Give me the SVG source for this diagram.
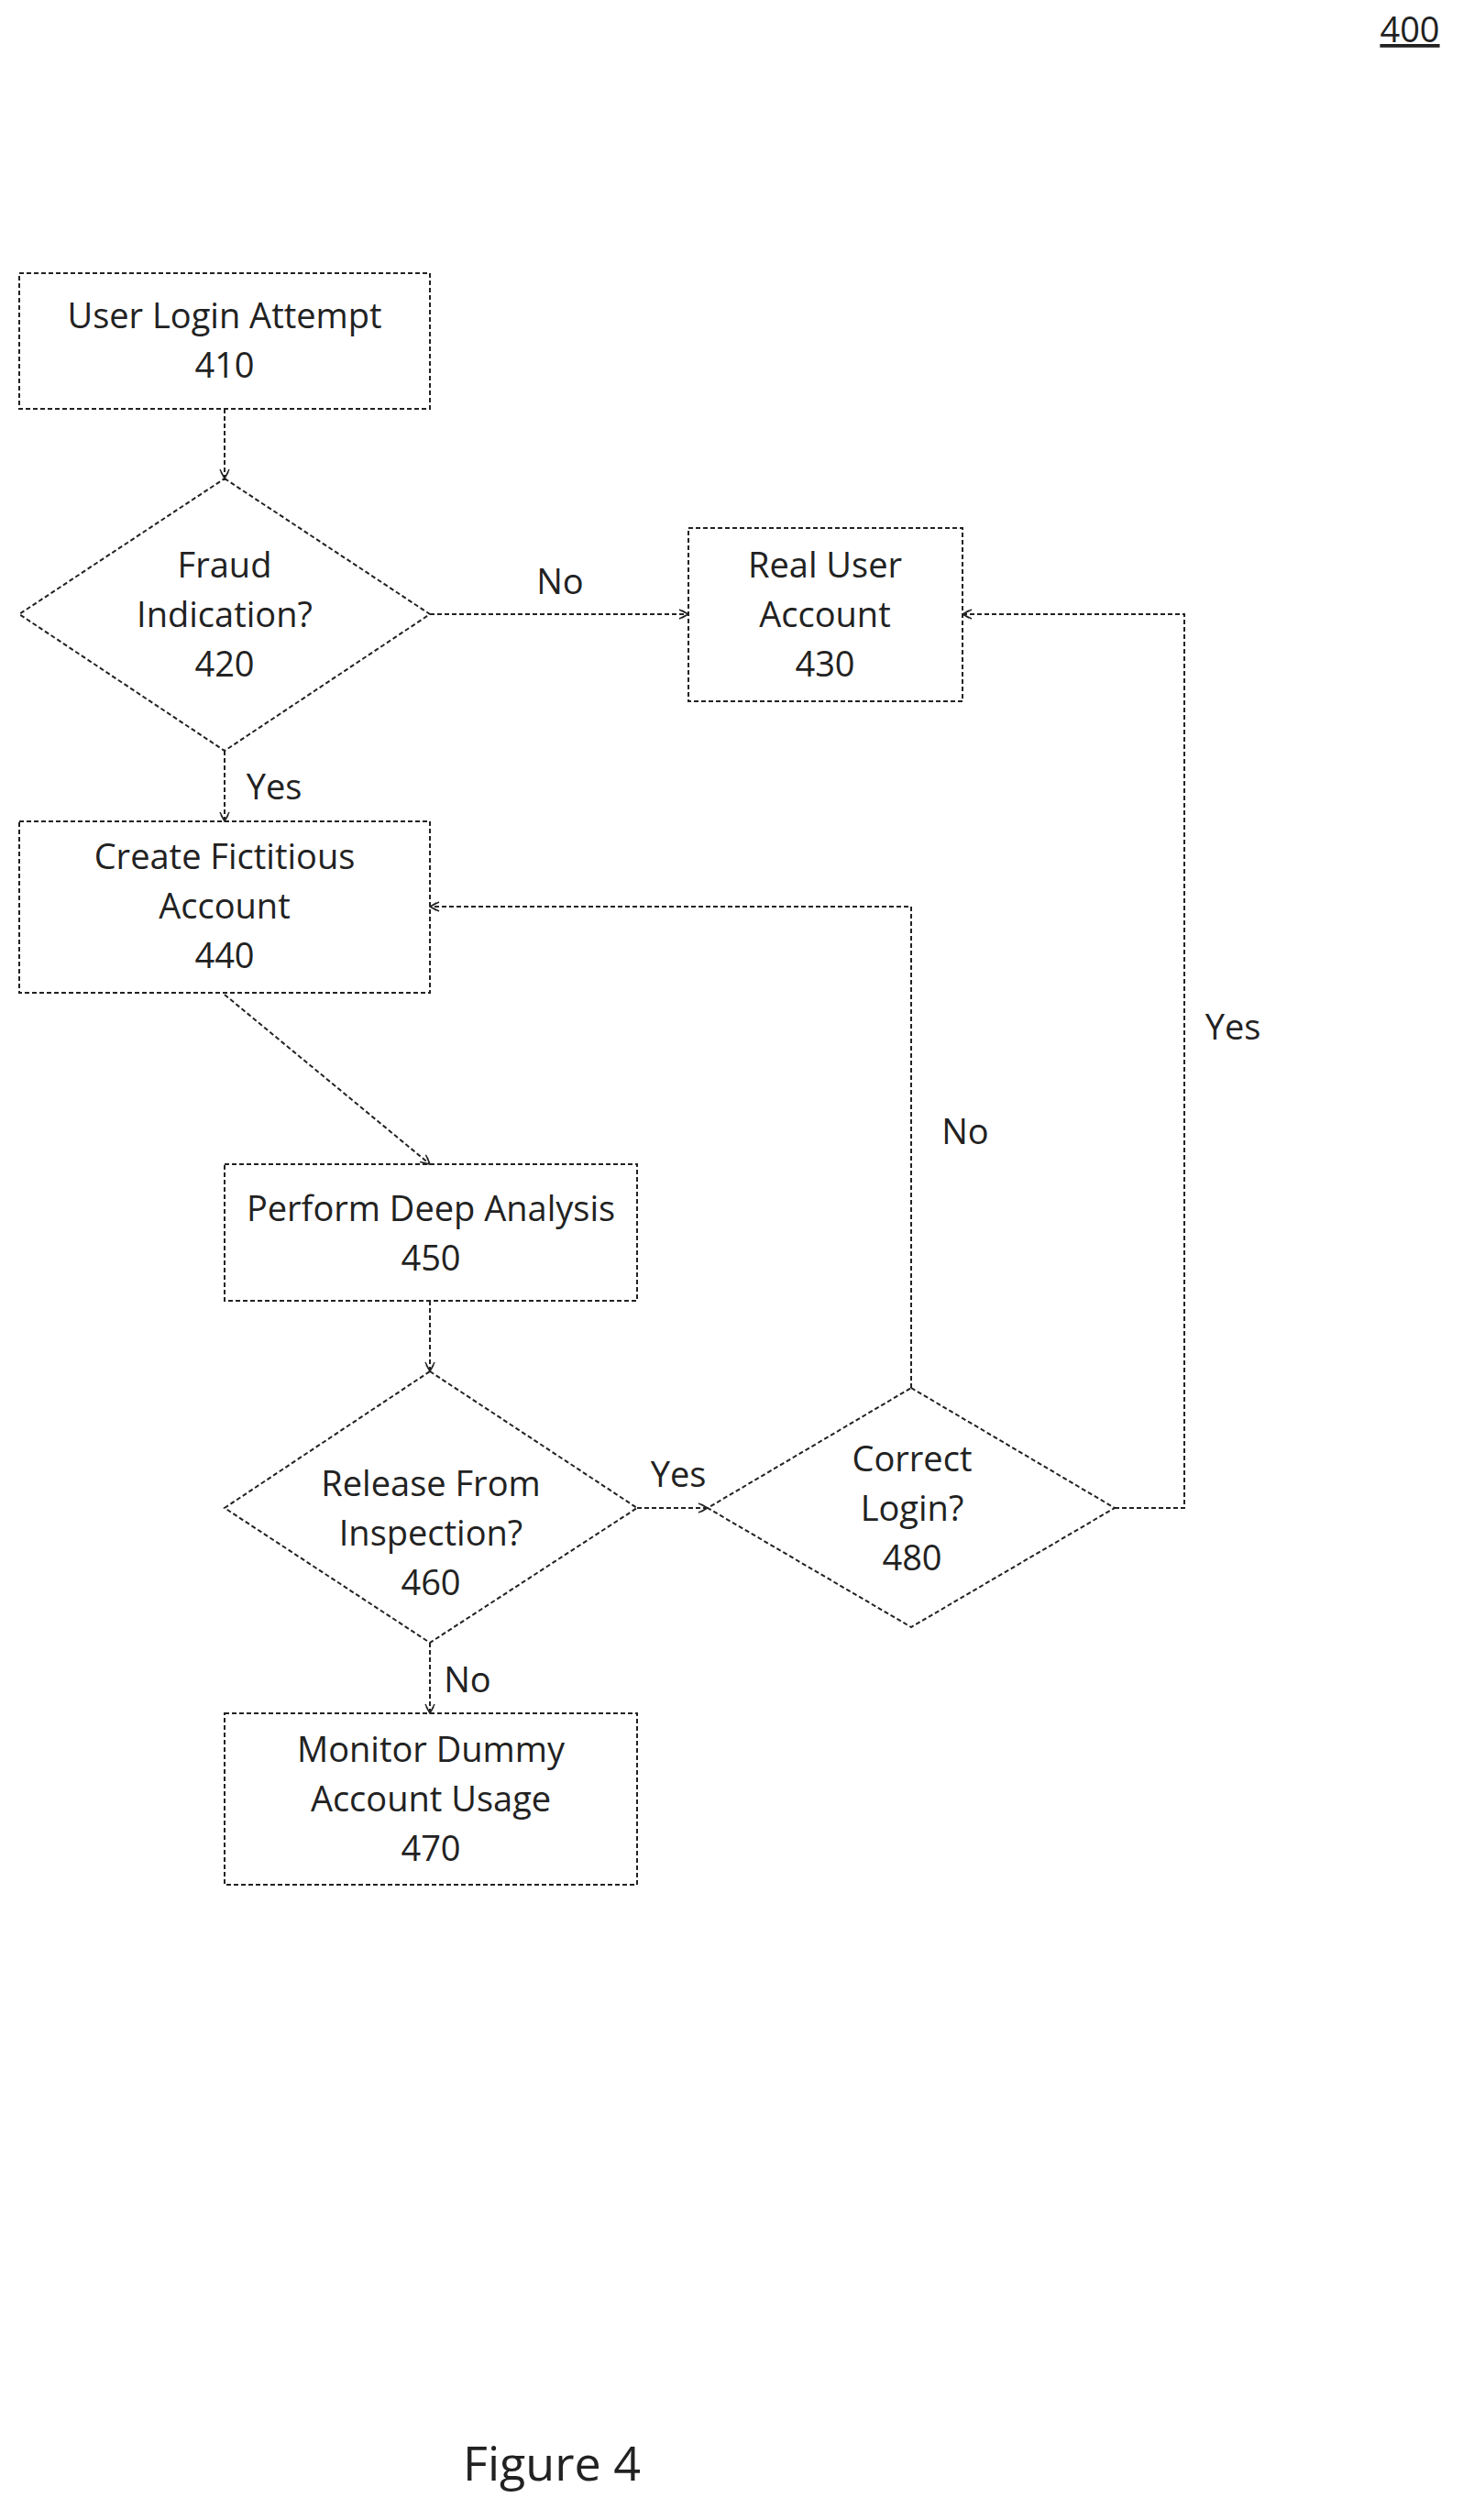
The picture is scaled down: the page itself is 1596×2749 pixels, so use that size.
<svg xmlns="http://www.w3.org/2000/svg" width="1596" height="2749" viewBox="0 0 1596 2749">
<style>
.s{fill:none;stroke:#222;stroke-width:2;stroke-dasharray:5 3}
.c{fill:none;stroke:#222;stroke-width:2;stroke-dasharray:5 3;marker-end:url(#a)}
text{font-family:"Open Sans","Liberation Sans",sans-serif;font-size:38px;fill:#222;text-anchor:middle}
</style>
<defs>
<marker id="a" viewBox="0 0 12 12" refX="11" refY="6" markerWidth="12" markerHeight="12" markerUnits="userSpaceOnUse" orient="auto">
<path d="M1,1 L11,6 L1,11 M4,2 L11,6 L4,10" fill="none" stroke="#222" stroke-width="1.5"/>
</marker>
</defs>
<rect width="1596" height="2749" fill="#fff"/>
<text x="1538" y="46" style="text-decoration:underline">400</text>
<g id="n410"><rect class="s" x="21" y="298" width="448" height="148"/><text x="245" y="358">User Login Attempt</text><text x="245" y="412">410</text></g>
<g id="n420"><path class="s" d="M245,522 L469,670 L245,819 L21,670 Z"/><text x="245" y="630">Fraud</text><text x="245" y="684">Indication?</text><text x="245" y="738">420</text></g>
<g id="n430"><rect class="s" x="751" y="576" width="299" height="189"/><text x="900" y="630">Real User</text><text x="900" y="684">Account</text><text x="900" y="738">430</text></g>
<g id="n440"><rect class="s" x="21" y="896" width="448" height="187"/><text x="245" y="948">Create Fictitious</text><text x="245" y="1002">Account</text><text x="245" y="1056">440</text></g>
<g id="n450"><rect class="s" x="245" y="1270" width="450" height="149"/><text x="470" y="1332">Perform Deep Analysis</text><text x="470" y="1386">450</text></g>
<g id="n460"><path class="s" d="M469,1496 L695,1645 L469,1792 L245,1645 Z"/><text x="470" y="1632">Release From</text><text x="470" y="1686">Inspection?</text><text x="470" y="1740">460</text></g>
<g id="n480"><path class="s" d="M994,1514 L1216,1645 L994,1775 L772,1645 Z"/><text x="995" y="1605">Correct</text><text x="995" y="1659">Login?</text><text x="995" y="1713">480</text></g>
<g id="n470"><rect class="s" x="245" y="1869" width="450" height="187"/><text x="470" y="1922">Monitor Dummy</text><text x="470" y="1976">Account Usage</text><text x="470" y="2030">470</text></g>
<g id="connectors">
<path class="c" d="M245,446 L245,522"/>
<path class="c" d="M469,670 L751,670"/>
<path class="c" d="M245,819 L245,896"/>
<path class="c" d="M245,1085 L469,1270"/>
<path class="c" d="M469,1419 L469,1496"/>
<path class="c" d="M469,1792 L469,1869"/>
<path class="c" d="M695,1645 L772,1645"/>
<path class="c" d="M994,1514 L994,989 L469,989"/>
<path class="c" d="M1216,1645 L1292,1645 L1292,670 L1050,670"/>
<text x="611" y="648">No</text>
<text x="299" y="872">Yes</text>
<text x="740" y="1622">Yes</text>
<text x="510" y="1846">No</text>
<text x="1053" y="1248">No</text>
<text x="1345" y="1134">Yes</text>
</g>
<text x="602" y="2706" style="font-size:52px">Figure 4</text>
</svg>
